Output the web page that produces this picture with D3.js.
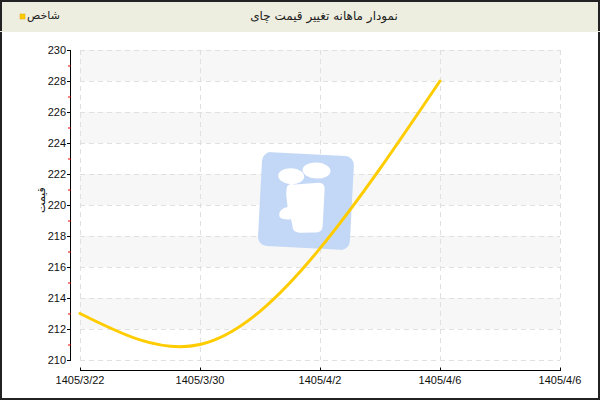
<!DOCTYPE html>
<html><head><meta charset="utf-8">
<script src="https://cdn.jsdelivr.net/npm/d3@7"></script>
<style>body{margin:0;background:#fff}svg{display:block}</style>
</head><body>
<script>
const title = "نمودار ماهانه تغییر قیمت چای";
const seriesName = "شاخص";
const yTitle = "قیمت";
const categories = ["1405/3/22", "1405/3/30", "1405/4/2", "1405/4/6"];
const xTickLabels = ["1405/3/22", "1405/3/30", "1405/4/2", "1405/4/6", "1405/4/6"];
const values = [213, 211, 217.2, 228];
const yTicks = [210, 212, 214, 216, 218, 220, 222, 224, 226, 228, 230];
const yMinor = [211, 213, 215, 217, 219, 221, 223, 225, 227, 229];

const W = 600, H = 400;
const svg = d3.select("body").append("svg").attr("width", W).attr("height", H);
const arabicFont = "DejaVu Sans, sans-serif";
const numFont = "Liberation Sans, Arial, sans-serif";

// header
svg.append("rect").attr("x", 0).attr("y", 0).attr("width", W).attr("height", 31).attr("fill", "#EEEEE0");
svg.append("text").attr("x", 324).attr("y", 20).attr("text-anchor", "middle")
  .attr("font-family", arabicFont).attr("font-size", 12).attr("fill", "#222").text(title);
svg.append("rect").attr("x", 20).attr("y", 14).attr("width", 5).attr("height", 5)
  .attr("fill", "#FFCC00").attr("stroke", "#E0A800").attr("stroke-width", 0.5);
svg.append("text").attr("x", 27).attr("y", 19).attr("text-anchor", "start")
  .attr("font-family", arabicFont).attr("font-size", 11).attr("fill", "#222").text(seriesName);

const x = d3.scalePoint().domain(d3.range(xTickLabels.length)).range([80, 560]);
const y = d3.scaleLinear().domain([210, 230]).range([360, 50]);

// bands
const g = svg.append("g");
for (let i = 0; i < yTicks.length - 1; i++) {
  if (i % 2 === 1) {
    g.append("rect").attr("x", x(0)).attr("width", x(4) - x(0))
      .attr("y", y(yTicks[i + 1])).attr("height", y(yTicks[i]) - y(yTicks[i + 1]))
      .attr("fill", "#F7F7F7");
  }
}
// grid
g.selectAll("line.hg").data(yTicks).join("line").attr("class", "hg")
  .attr("x1", x(0)).attr("x2", x(4)).attr("y1", d => y(d) + 0.5).attr("y2", d => y(d) + 0.5)
  .attr("stroke", "#E0E0E0").attr("stroke-dasharray", "5,4");
g.selectAll("line.vg").data(d3.range(xTickLabels.length)).join("line").attr("class", "vg")
  .attr("x1", d => x(d) + 0.5).attr("x2", d => x(d) + 0.5).attr("y1", y(230)).attr("y2", y(210))
  .attr("stroke", "#E0E0E0").attr("stroke-dasharray", "5,4");

// logo watermark
const logo = svg.append("g").attr("transform", "translate(306,200) rotate(3)");
logo.append("rect").attr("x", -46).attr("y", -46).attr("width", 92).attr("height", 94).attr("rx", 9)
  .attr("fill", "#C3D8F6");
logo.append("ellipse").attr("cx", 9).attr("cy", -30).attr("rx", 14).attr("ry", 8).attr("fill", "#fff");
logo.append("ellipse").attr("cx", -16).attr("cy", -23).attr("rx", 13).attr("ry", 8).attr("fill", "#fff");
logo.append("path").attr("d", "M-20,-10 Q-20,-16 -12,-15 L12,-18 Q18,-18 18,-12 L18,25 Q18,32 10,32 L-5,33 Q-12,33 -12,27 L-14,20 Q-26,22 -26,16 Q-26,10 -18,8 L-20,-4 Z")
  .attr("fill", "#fff");

// line
const line = d3.line().x((d, i) => x(i)).y(d => y(d)).curve(d3.curveNatural);
svg.append("path").datum(values).attr("d", line).attr("fill", "none")
  .attr("stroke", "#FFCC00").attr("stroke-width", 3).attr("stroke-linecap", "round");

// y axis
const yAxisG = svg.append("g").attr("transform", "translate(70.5,0)");
yAxisG.append("line").attr("y1", y(230)).attr("y2", y(210) + 0.5).attr("stroke", "#000");
yAxisG.selectAll("line.mj").data(yTicks).join("line").attr("class", "mj")
  .attr("x1", -3.5).attr("x2", 0.5).attr("y1", d => y(d) + 0.5).attr("y2", d => y(d) + 0.5).attr("stroke", "#000");
yAxisG.selectAll("line.mn").data(yMinor).join("line").attr("class", "mn")
  .attr("x1", -2.5).attr("x2", 0.5).attr("y1", d => y(d) + 0.5).attr("y2", d => y(d) + 0.5).attr("stroke", "#E00000");
yAxisG.selectAll("text").data(yTicks).join("text")
  .attr("x", -4.5).attr("y", d => y(d) + 4).attr("text-anchor", "end")
  .attr("font-family", numFont).attr("font-size", 11).attr("fill", "#111").text(d => d);
svg.append("text").attr("transform", "translate(45,200) rotate(-90)").attr("text-anchor", "middle")
  .attr("font-family", arabicFont).attr("font-size", 11).attr("fill", "#111").text(yTitle);

// x axis
const xAxisG = svg.append("g").attr("transform", "translate(0,370.5)");
xAxisG.append("line").attr("x1", x(0)).attr("x2", x(4) + 1).attr("stroke", "#000");
xAxisG.selectAll("line.t").data(d3.range(xTickLabels.length)).join("line").attr("class", "t")
  .attr("x1", d => x(d) + 0.5).attr("x2", d => x(d) + 0.5).attr("y1", -3).attr("y2", 0).attr("stroke", "#000");
xAxisG.selectAll("text").data(xTickLabels).join("text")
  .attr("x", (d, i) => x(i)).attr("y", 13).attr("text-anchor", "middle")
  .attr("font-family", numFont).attr("font-size", 11).attr("fill", "#111").text(d => d);

// border
svg.append("rect").attr("x", 1).attr("y", 1).attr("width", W - 2).attr("height", H - 2)
  .attr("fill", "none").attr("stroke", "#222").attr("stroke-width", 2);
svg.append("line").attr("x1", 0).attr("x2", W).attr("y1", 31.5).attr("y2", 31.5).attr("stroke", "#EEEEE0");
</script>
</body></html>
